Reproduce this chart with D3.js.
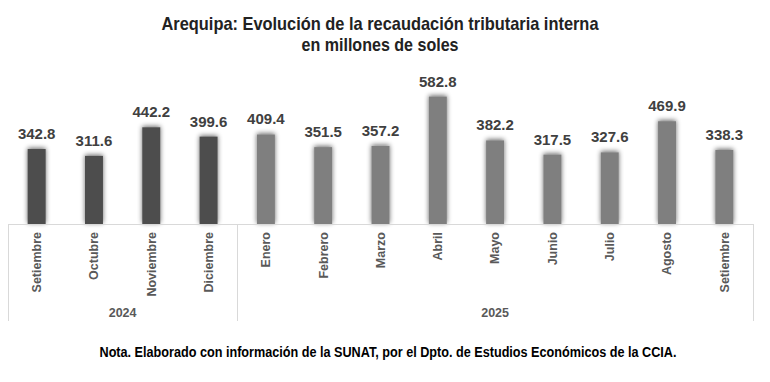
<!DOCTYPE html>
<html><head><meta charset="utf-8">
<script src="https://cdn.jsdelivr.net/npm/d3@7"></script>
<style>
html,body{margin:0;padding:0;background:#fff;}
svg{display:block;}
</style></head>
<body>
<svg id="chart" width="770" height="382"></svg>
<script>
const months = ["Setiembre","Octubre","Noviembre","Diciembre","Enero","Febrero","Marzo","Abril","Mayo","Junio","Julio","Agosto","Setiembre"];
const years = ["2024","2024","2024","2024","2025","2025","2025","2025","2025","2025","2025","2025","2025"];
const values = [342.8,311.6,442.2,399.6,409.4,351.5,357.2,582.8,382.2,317.5,327.6,469.9,338.3];
const yearLabels = ["2024","2025"];
const titleLines = ["Arequipa: Evolución de la recaudación tributaria interna","en millones de soles"];
const note = "Nota. Elaborado con información de la SUNAT, por el Dpto. de Estudios Económicos de la CCIA.";

const svg = d3.select("#chart");
const font = "'Liberation Sans', Arial, sans-serif";
const left = 8, right = 753, baseY = 224, groupBottom = 321;

const data = months.map((m,i)=>({key:i, month:m, year:years[i], value:values[i]}));
const x = d3.scaleBand().domain(d3.range(months.length)).range([left,right]).paddingInner(0.686).paddingOuter(0.343);
const y = d3.scaleLinear().domain([0,700]).range([baseY, baseY-700*0.2187]);
const color = d3.scaleOrdinal().domain(yearLabels).range(["#4d4d4d","#7f7f7f"]);

// shadow filter
const defs = svg.append("defs");
const f = defs.append("filter").attr("id","glow").attr("x","-60%").attr("y","-20%").attr("width","220%").attr("height","140%");
f.append("feGaussianBlur").attr("in","SourceAlpha").attr("stdDeviation",2.4).attr("result","b");
f.append("feOffset").attr("in","b").attr("dx",0).attr("dy",-1).attr("result","o");
f.append("feComponentTransfer").attr("in","o").attr("result","s").append("feFuncA").attr("type","linear").attr("slope",0.6);
const fm = f.append("feMerge");
fm.append("feMergeNode").attr("in","s");
fm.append("feMergeNode").attr("in","SourceGraphic");

// title
svg.selectAll("text.title").data(titleLines).join("text")
  .attr("class","title")
  .attr("x",380).attr("y",(d,i)=>30+i*21)
  .attr("text-anchor","middle")
  .attr("font-family",font).attr("font-weight","bold").attr("font-size",18.5)
  .attr("fill","#222")
  .attr("textLength",(d,i)=>i===0?437:157).attr("lengthAdjust","spacingAndGlyphs")
  .text(d=>d);

// bars
svg.append("g").selectAll("rect").data(data).join("rect")
  .attr("x",d=>x(d.key)).attr("width",x.bandwidth())
  .attr("y",d=>y(d.value)).attr("height",d=>y(0)-y(d.value))
  .attr("fill",d=>color(d.year))
  .attr("filter","url(#glow)");

// value labels
svg.append("g").selectAll("text").data(data).join("text")
  .attr("x",d=>x(d.key)+x.bandwidth()/2)
  .attr("y",d=>y(d.value)-10)
  .attr("text-anchor","middle")
  .attr("font-family",font).attr("font-weight","bold").attr("font-size",15)
  .attr("fill","#404040")
  .text(d=>d.value.toFixed(1));

// x axis
const axis = d3.axisBottom(x).tickSize(0).tickSizeOuter(0).tickFormat(i=>months[i]);
const gx = svg.append("g").attr("transform",`translate(0,${baseY})`).call(axis);
gx.select(".domain").attr("stroke","#d9d9d9").attr("stroke-width",1);
gx.selectAll(".tick text")
  .attr("font-family",font).attr("font-size",12.5).attr("font-weight","bold")
  .attr("fill","#595959")
  .attr("transform","rotate(-90)")
  .attr("text-anchor","end")
  .attr("x",-8).attr("y",0).attr("dy","0.35em");

// group separators
const groups = yearLabels.map(yl=>{
  const idx = data.filter(d=>d.year===yl).map(d=>d.key);
  return {year:yl, first:d3.min(idx), last:d3.max(idx)};
});
const step = x.step();
const bounds = [left].concat(groups.map(g=>x(g.last)+x.bandwidth()/2+step/2));
svg.append("g").selectAll("line").data(bounds).join("line")
  .attr("x1",d=>Math.round(d)+0.5).attr("x2",d=>Math.round(d)+0.5)
  .attr("y1",baseY).attr("y2",groupBottom)
  .attr("stroke","#d9d9d9").attr("stroke-width",1);

svg.append("g").selectAll("text").data(groups).join("text")
  .attr("x",g=>(x(g.first)+x(g.last)+x.bandwidth())/2)
  .attr("y",317)
  .attr("text-anchor","middle")
  .attr("font-family",font).attr("font-size",12.5).attr("font-weight","bold")
  .attr("fill","#595959")
  .text(g=>g.year);

// note
svg.append("text")
  .attr("x",388).attr("y",357)
  .attr("text-anchor","middle")
  .attr("font-family",font).attr("font-weight","bold").attr("font-size",14.5)
  .attr("fill","#000")
  .attr("textLength",577).attr("lengthAdjust","spacingAndGlyphs")
  .text(note);
</script>
</body></html>
